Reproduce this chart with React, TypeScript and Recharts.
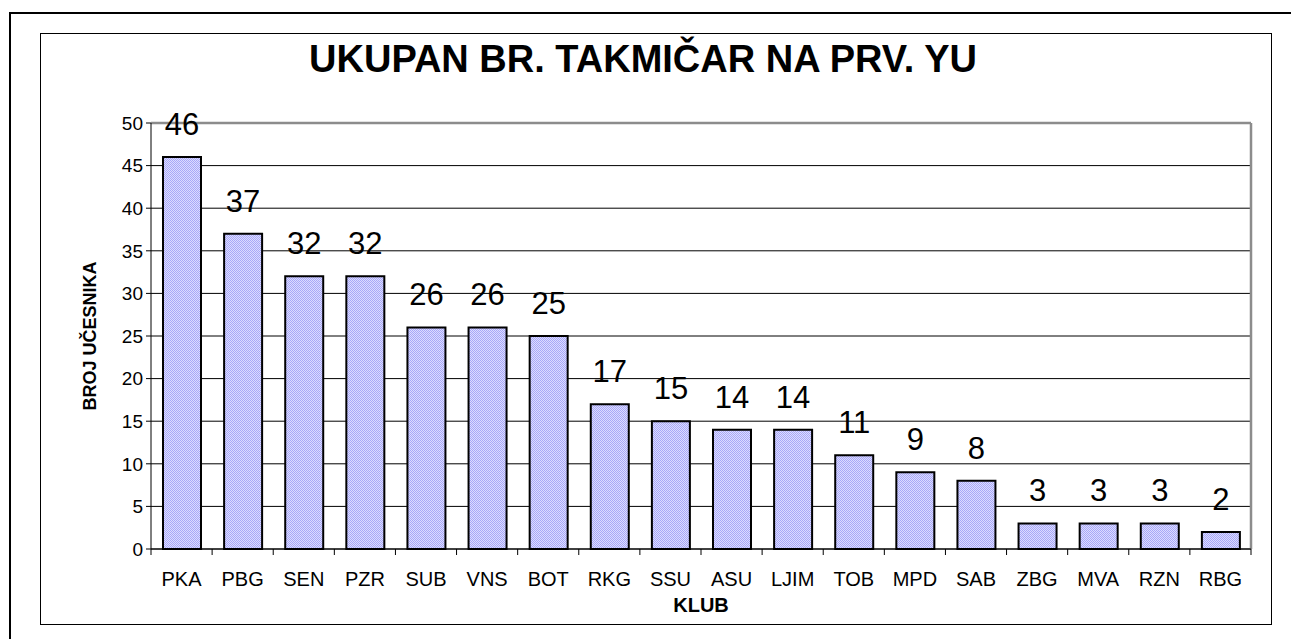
import React from 'react';
import {
  BarChart,
  Bar,
  XAxis,
  YAxis,
  CartesianGrid,
  LabelList,
  ReferenceLine,
} from 'recharts';

const clubs = [
  'PKA', 'PBG', 'SEN', 'PZR', 'SUB', 'VNS', 'BOT', 'RKG', 'SSU',
  'ASU', 'LJIM', 'TOB', 'MPD', 'SAB', 'ZBG', 'MVA', 'RZN', 'RBG',
];
const participants = [46, 37, 32, 32, 26, 26, 25, 17, 15, 14, 14, 11, 9, 8, 3, 3, 3, 2];
const yTicks = [0, 5, 10, 15, 20, 25, 30, 35, 40, 45, 50];

const data = clubs.map((club, i) => ({ club, value: participants[i] }));

const FONT = '"Liberation Sans", Arial, sans-serif';
const PLOT_W = 1100;

// category label plus the small tick mark on the band boundary (Excel style)
function ClubTick(props: any) {
  const { x, y, payload, index } = props;
  const bw = PLOT_W / clubs.length;
  const axisY = y - 23;
  return (
    <g>
      <line x1={x - bw / 2} y1={axisY} x2={x - bw / 2} y2={axisY + 6} stroke="#000" />
      {index === clubs.length - 1 && (
        <line x1={x + bw / 2} y1={axisY} x2={x + bw / 2} y2={axisY + 6} stroke="#000" />
      )}
      <text x={x} y={y} dy="0.71em" textAnchor="middle" fontSize={20} fill="#000" fontFamily={FONT}>
        {payload.value}
      </text>
    </g>
  );
}

export default function App() {
  return (
    <div
      style={{
        position: 'fixed',
        left: 0,
        top: 0,
        width: 1291,
        height: 639,
        overflow: 'hidden',
        background: '#fff',
        fontFamily: FONT,
      }}
    >
      <div
        style={{
          position: 'absolute',
          left: 9,
          top: 12,
          width: 1400,
          height: 800,
          border: '2px solid #000',
        }}
      />
      <div
        style={{
          position: 'absolute',
          left: 40,
          top: 33,
          width: 1230,
          height: 590,
          border: '1.5px solid #000',
        }}
      />
      <div
        style={{
          position: 'absolute',
          left: 643,
          top: 40,
          transform: 'translateX(-50%)',
          whiteSpace: 'nowrap',
          fontSize: 38,
          lineHeight: '38px',
          fontWeight: 'bold',
          color: '#000',
        }}
      >
        UKUPAN BR. TAKMIČAR NA PRV. YU
      </div>
      <div style={{ position: 'absolute', left: 0, top: 0 }}>
        <BarChart
          width={1291}
          height={639}
          data={data}
          margin={{ top: 123, right: 40, bottom: 24, left: 51 }}
          barSize={38}
        >
          <defs>
            <pattern id="chk" width="2" height="2" patternUnits="userSpaceOnUse">
              <rect width="2" height="2" fill="#dcdcff" />
              <rect width="1" height="1" fill="#a8a8f8" />
              <rect x="1" y="1" width="1" height="1" fill="#a8a8f8" />
            </pattern>
          </defs>
          <CartesianGrid vertical={false} stroke="#000" strokeWidth={1} />
          <XAxis
            dataKey="club"
            height={66}
            tickLine={false}
            tickSize={6}
            tickMargin={17}
            axisLine={{ stroke: '#000', strokeWidth: 1 }}
            tick={<ClubTick />}
            interval={0}
            label={{
              value: 'KLUB',
              position: 'insideBottom',
              offset: 3,
              style: { fontSize: 20, fontWeight: 'bold', fill: '#000', fontFamily: FONT },
            }}
          />
          <YAxis
            width={100}
            domain={[0, 50]}
            ticks={yTicks}
            interval={0}
            tickSize={5}
            tickMargin={3}
            tickLine={{ stroke: '#000' }}
            axisLine={{ stroke: '#000', strokeWidth: 1 }}
            tick={{ fontSize: 19, fill: '#000', fontFamily: FONT }}
            label={{
              value: 'BROJ UČESNIKA',
              angle: -90,
              position: 'insideLeft',
              offset: 39,
              style: { textAnchor: 'middle', fontSize: 18, fontWeight: 'bold', fill: '#000', fontFamily: FONT },
            }}
          />
          <ReferenceLine y={50} stroke="#8c8c8c" strokeWidth={2.5} />
          <ReferenceLine x="RBG" position="end" stroke="#8c8c8c" strokeWidth={2.5} />
          <Bar dataKey="value" fill="url(#chk)" stroke="#000" strokeWidth={2} isAnimationActive={false}>
            <LabelList
              dataKey="value"
              position="top"
              offset={22}
              style={{ fontSize: 31, fill: '#000', fontFamily: FONT }}
            />
          </Bar>
        </BarChart>
      </div>
    </div>
  );
}
